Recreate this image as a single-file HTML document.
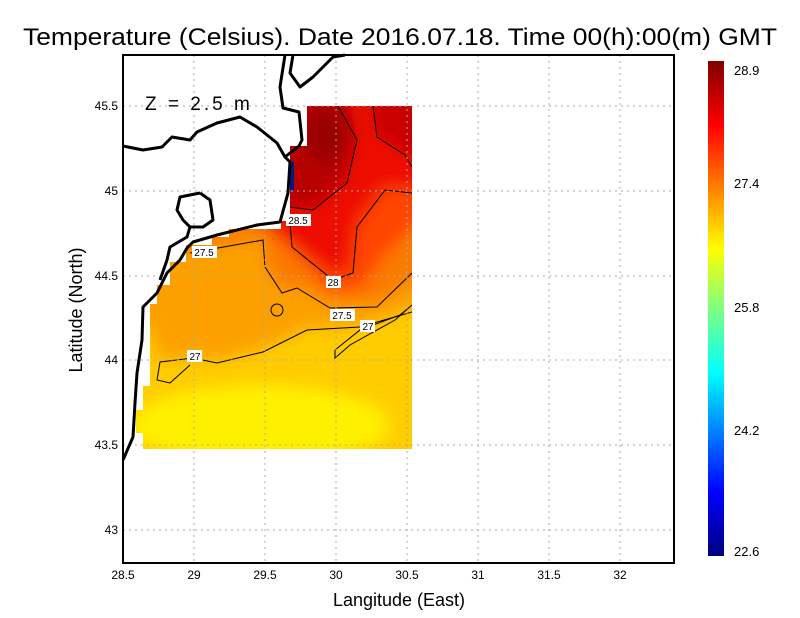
<!DOCTYPE html>
<html><head><meta charset="utf-8"><style>body{margin:0;background:#fff}svg{display:block}</style></head><body>
<svg width="800" height="618" viewBox="0 0 800 618" xmlns="http://www.w3.org/2000/svg" font-family="Liberation Sans, sans-serif">
<defs>
<clipPath id="dc"><polygon points="307,106 412,106 412,449 143,449 143,433 136,433 136,410 143,410 143,386 150,386 150,304 157,304 157,285 170,285 170,262 186,262 186,245 212,245 212,237 229,237 229,229 281,229 281,221 290,221 290,146 307,146"/></clipPath>
<filter id="bl" x="-30%" y="-30%" width="160%" height="160%"><feGaussianBlur stdDeviation="8"/></filter>
<linearGradient id="cb" x1="0" y1="1" x2="0" y2="0">
<stop offset="0" stop-color="#00007f"/><stop offset="0.13" stop-color="#0000ff"/><stop offset="0.37" stop-color="#00ffff"/><stop offset="0.5" stop-color="#7fff7f"/><stop offset="0.62" stop-color="#ffff00"/><stop offset="0.87" stop-color="#ff0000"/><stop offset="1" stop-color="#7f0000"/></linearGradient>
</defs>
<text x="23" y="45" font-size="24" textLength="754" lengthAdjust="spacingAndGlyphs">Temperature (Celsius). Date 2016.07.18. Time 00(h):00(m) GMT</text>
<g clip-path="url(#dc)">
<rect x="100" y="80" width="340" height="400" fill="#ffcc00"/>
<g filter="url(#bl)">
<ellipse cx="260" cy="425" rx="130" ry="40" fill="#fff000"/>
<polygon points="100,80 440,80 440,300 360,325 307,328 263,348 217,360 193,356 160,360 150,330 100,300" fill="#fca000"/>
<polygon points="100,80 440,80 440,268 377,302 330,303 297,285 282,290 265,265 263,238 190,250 100,240" fill="#fb7a00"/>
<polygon points="260,80 440,80 440,200 412,230 385,255 360,290 330,290 300,260 275,235 260,225" fill="#ff4400"/>
<polygon points="260,80 440,80 440,190 385,187 357,222 350,268 333,275 292,244 260,222" fill="#ee1000"/>
<polygon points="260,80 345,80 357,140 345,183 313,208 260,205" fill="#b80000"/>
<polygon points="365,80 440,80 440,165 405,152 377,135" fill="#c80000"/>
<ellipse cx="325" cy="135" rx="22" ry="28" fill="#9a0000"/>
</g>
<rect x="289" y="162" width="5" height="28" fill="#001a80"/>
<g fill="none" stroke="#000" stroke-width="1">
<polyline points="160,362 193,358 217,363 263,352 307,330 360,327 412,312"/>
<polyline points="190,253 263,240 265,267 282,293 297,288 330,308 377,307 412,273"/>
<polyline points="290,222 292,247 333,280 353,273 357,227 385,190 412,193"/>
<polyline points="290,207 313,210 347,183 357,140 338,106"/>
<polyline points="373,106 377,137 405,155 412,167"/>
<polyline points="335,350 360,330 400,315 412,305 395,320 350,345 335,358 335,350"/>
<ellipse cx="277" cy="310" rx="6" ry="6"/>
<polyline points="160,362 157,380 170,383 190,365"/>
</g>
</g>
<g stroke="#aaa" stroke-width="1" stroke-dasharray="2,4">
<line x1="194" y1="55" x2="194" y2="563"/><line x1="265" y1="55" x2="265" y2="563"/><line x1="336" y1="55" x2="336" y2="563"/><line x1="407" y1="55" x2="407" y2="563"/><line x1="478" y1="55" x2="478" y2="563"/><line x1="549" y1="55" x2="549" y2="563"/><line x1="620" y1="55" x2="620" y2="563"/>
<line x1="123" y1="106" x2="674" y2="106"/><line x1="123" y1="191" x2="674" y2="191"/><line x1="123" y1="276" x2="674" y2="276"/><line x1="123" y1="360" x2="674" y2="360"/><line x1="123" y1="445" x2="674" y2="445"/><line x1="123" y1="530" x2="674" y2="530"/>
</g>
<g fill="none" stroke="#000" stroke-width="3" stroke-linejoin="round">
<polyline points="285,55 280,87 283,108 299,112 302,140 299,146 290,153 285,157 290,162 288,193 280,222 257,225 217,235 193,242 187,248 180,260 167,273 157,293 143,307 142,340 137,373 135,403 133,437 123,460"/>
<polyline points="123,146 143,150 162,147 172,137 190,140 197,132 217,123 240,117 257,127 277,143 285,157"/>
<polyline points="293,55 290,73 300,87 313,77 333,57 345,55"/>
<polyline points="200,193 180,197 177,210 183,220 190,227 187,237 170,247 167,260 160,280"/>
<polyline points="200,193 210,200 213,220 203,227 190,227"/>
</g>
<g font-size="10" text-anchor="middle">
<rect x="286" y="214" width="25" height="12" fill="#fff"/><text x="298" y="224">28.5</text>
<rect x="192" y="246" width="25" height="12" fill="#fff"/><text x="204" y="256">27.5</text>
<rect x="326" y="276" width="15" height="12" fill="#fff"/><text x="333" y="286">28</text>
<rect x="330" y="309" width="25" height="12" fill="#fff"/><text x="342" y="319">27.5</text>
<rect x="360" y="320" width="15" height="12" fill="#fff"/><text x="368" y="330">27</text>
<rect x="187" y="350" width="15" height="12" fill="#fff"/><text x="195" y="360">27</text>
</g>
<text x="145" y="110" font-size="19" letter-spacing="3">Z = 2.5 m</text>
<rect x="123" y="55" width="551" height="508" fill="none" stroke="#000" stroke-width="2"/>
<g font-size="12" text-anchor="middle">
<text x="123" y="579">28.5</text><text x="194" y="579">29</text><text x="265" y="579">29.5</text><text x="336" y="579">30</text><text x="407" y="579">30.5</text><text x="478" y="579">31</text><text x="549" y="579">31.5</text><text x="620" y="579">32</text>
</g>
<g font-size="12" text-anchor="end">
<text x="118" y="110">45.5</text><text x="118" y="195">45</text><text x="118" y="280">44.5</text><text x="118" y="364">44</text><text x="118" y="449">43.5</text><text x="118" y="534">43</text>
</g>
<text x="399" y="606" font-size="18" text-anchor="middle">Langitude (East)</text>
<text transform="translate(82,310) rotate(-90)" font-size="18" text-anchor="middle">Latitude (North)</text>
<rect x="708" y="61" width="16" height="495" fill="url(#cb)"/>
<g font-size="13">
<text x="734" y="75">28.9</text><text x="734" y="188">27.4</text><text x="734" y="312">25.8</text><text x="734" y="435">24.2</text><text x="734" y="556">22.6</text>
</g>
</svg>
</body></html>
